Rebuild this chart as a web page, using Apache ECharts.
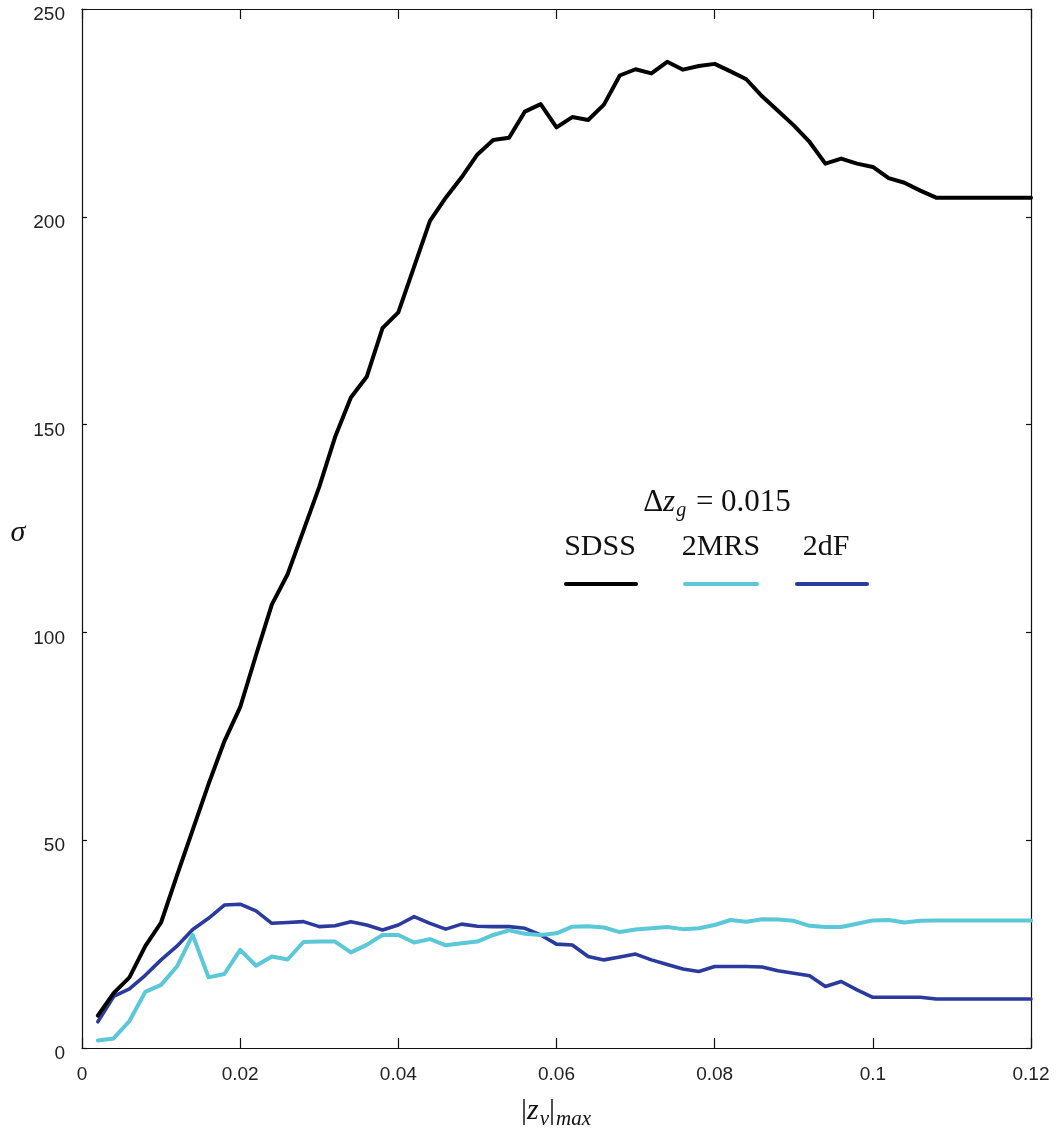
<!DOCTYPE html>
<html>
<head>
<meta charset="utf-8">
<script src="https://cdn.jsdelivr.net/npm/echarts@6/dist/echarts.min.js"></script>
<style>
  html, body { margin: 0; padding: 0; background: #fff; }
  #chart { width: 1058px; height: 1133px; }
</style>
</head>
<body>
<div id="chart"></div>
<script>
// |z_v|_max sampling grid
const zMax = [
  0.002, 0.004, 0.006, 0.008, 0.010, 0.012, 0.014, 0.016, 0.018, 0.020,
  0.022, 0.024, 0.026, 0.028, 0.030, 0.032, 0.034, 0.036, 0.038, 0.040,
  0.042, 0.044, 0.046, 0.048, 0.050, 0.052, 0.054, 0.056, 0.058, 0.060,
  0.062, 0.064, 0.066, 0.068, 0.070, 0.072, 0.074, 0.076, 0.078, 0.080,
  0.082, 0.084, 0.086, 0.088, 0.090, 0.092, 0.094, 0.096, 0.098, 0.100,
  0.102, 0.104, 0.106, 0.108, 0.110, 0.112, 0.114, 0.116, 0.118, 0.120
];

// sigma per survey
const sdss = [
  7.8, 13.2, 17.0, 24.5, 30.2, 41.5, 52.5, 63.5, 73.8, 82.0,
  94.5, 106.7, 114.0, 124.5, 135.0, 147.0, 156.5, 161.5, 173.2, 177.0,
  188.0, 199.0, 204.6, 209.5, 215.0, 218.5, 219.0, 225.3, 227.1, 221.5,
  224.0, 223.3, 227.0, 234.0, 235.5, 234.5, 237.3, 235.4, 236.3, 236.8,
  235.0, 233.1, 229.0, 225.5, 222.0, 218.0, 212.8, 214.0, 212.8, 212.0,
  209.3, 208.2, 206.3, 204.6, 204.6, 204.6, 204.6, 204.6, 204.6, 204.6
];
const twoMRS = [
  1.8, 2.3, 6.5, 13.5, 15.2, 19.6, 27.2, 17.0, 17.8, 23.6,
  19.8, 22.0, 21.3, 25.5, 25.6, 25.6, 23.0, 24.8, 27.2, 27.2,
  25.4, 26.2, 24.7, 25.2, 25.6, 27.2, 28.3, 27.5, 27.2, 27.6,
  29.2, 29.3, 29.0, 27.9, 28.5, 28.8, 29.1, 28.6, 28.8, 29.6,
  30.8, 30.4, 31.0, 30.9, 30.6, 29.4, 29.1, 29.1, 29.9, 30.7,
  30.8, 30.2, 30.6, 30.7, 30.7, 30.7, 30.7, 30.7, 30.7, 30.7
];
const twoDF = [
  6.3, 12.4, 14.2, 17.5, 21.2, 24.5, 28.5, 31.2, 34.4, 34.6,
  33.0, 30.0, 30.2, 30.4, 29.2, 29.4, 30.4, 29.6, 28.4, 29.6,
  31.6, 30.0, 28.6, 29.8, 29.3, 29.2, 29.2, 28.8, 27.2, 25.0,
  24.8, 22.0, 21.2, 21.9, 22.6, 21.2, 20.1, 19.0, 18.4, 19.6,
  19.6, 19.6, 19.5, 18.6, 18.0, 17.4, 14.8, 16.0, 14.0, 12.2,
  12.2, 12.2, 12.2, 11.8, 11.8, 11.8, 11.8, 11.8, 11.8, 11.8
];

const seriesNames = ['SDSS', '2MRS', '2dF'];
const seriesColors = ['#000000', '#5ac8d8', '#2b3a9f'];
const seriesValues = [sdss, twoMRS, twoDF];

const pairs = vals => zMax.map((z, i) => [z, vals[i]]);

const serif = '"Liberation Serif", "DejaVu Serif", serif';
const sans = '"Liberation Sans", Arial, sans-serif';

const boxAxis = {
  axisLine: { show: true, onZero: false, lineStyle: { color: '#111', width: 1.2 } },
  splitLine: { show: false }
};

const chart = echarts.init(document.getElementById('chart'), null, { renderer: 'canvas' });

// Legend block: title above, names above their line samples
const legendNames = [
  { x: 600, text: 'SDSS' },
  { x: 721, text: '2MRS' },
  { x: 826, text: '2dF' }
];
const legendLines = [
  { x1: 566, x2: 636 },
  { x1: 685, x2: 757 },
  { x1: 797, x2: 867 }
];

const graphics = [
  {
    type: 'text', x: 717, y: 503,
    style: {
      text: '{n|Δ}{i|z}{s|g}{n| = 0.015}',
      align: 'center', verticalAlign: 'middle',
      rich: {
        n: { fontFamily: serif, fontSize: 31, fill: '#111' },
        i: { fontFamily: serif, fontSize: 31, fontStyle: 'italic', fill: '#111' },
        s: { fontFamily: serif, fontSize: 20, fontStyle: 'italic', fill: '#111', padding: [16, 2, 0, 1] }
      }
    }
  }
];
legendNames.forEach(n => graphics.push({
  type: 'text', x: n.x, y: 547,
  style: { text: n.text, fontFamily: serif, fontSize: 30, fill: '#111', align: 'center', verticalAlign: 'middle' }
}));
legendLines.forEach((l, i) => graphics.push({
  type: 'line',
  shape: { x1: l.x1, y1: 584, x2: l.x2, y2: 584 },
  style: { stroke: seriesColors[i], lineWidth: 4, lineCap: 'round' }
}));
// y-axis name
graphics.push({
  type: 'text', x: 18, y: 533,
  style: { text: 'σ', fontFamily: serif, fontSize: 30, fontStyle: 'italic', fill: '#111', align: 'center', verticalAlign: 'middle' }
});
// x-axis name |z_v|_max
graphics.push({
  type: 'text', x: 556, y: 1111,
  style: {
    text: '{n||}{i|z}{s|v}{n||}{s|max}',
    align: 'center', verticalAlign: 'middle',
    rich: {
      n: { fontFamily: serif, fontSize: 30, fill: '#111' },
      i: { fontFamily: serif, fontSize: 30, fontStyle: 'italic', fill: '#111' },
      s: { fontFamily: serif, fontSize: 21, fontStyle: 'italic', fill: '#111', padding: [16, 0, 0, 1] }
    }
  }
});

chart.setOption({
  backgroundColor: '#ffffff',
  animation: false,
  grid: { left: 82, right: 27, top: 9, bottom: 85, containLabel: false },
  xAxis: [
    Object.assign({
      type: 'value', position: 'bottom', min: 0, max: 0.12, interval: 0.02,
      axisTick: { show: true, inside: true, length: 10, lineStyle: { color: '#111', width: 1.2 } },
      axisLabel: { show: true, margin: 17, fontFamily: sans, fontSize: 19, color: '#222',
        formatter: v => String(+v.toFixed(2)) }
    }, boxAxis),
    Object.assign({
      type: 'value', position: 'top', min: 0, max: 0.12, interval: 0.02,
      axisTick: { show: true, inside: true, length: 10, lineStyle: { color: '#111', width: 1.2 } },
      axisLabel: { show: false }
    }, boxAxis)
  ],
  yAxis: [
    Object.assign({
      type: 'value', position: 'left', min: 0, max: 250, interval: 50,
      axisTick: { show: true, inside: true, length: 5, lineStyle: { color: '#111', width: 1.2 } },
      axisLabel: { show: true, margin: 17, fontFamily: sans, fontSize: 19, color: '#222',
        verticalAlign: 'top', lineHeight: 12 }
    }, boxAxis),
    Object.assign({
      type: 'value', position: 'right', min: 0, max: 250, interval: 50,
      axisTick: { show: true, inside: true, length: 5, lineStyle: { color: '#111', width: 1.2 } },
      axisLabel: { show: false }
    }, boxAxis)
  ],
  series: seriesNames.map((name, i) => ({
    name,
    type: 'line',
    xAxisIndex: 0,
    yAxisIndex: 0,
    data: pairs(seriesValues[i]),
    showSymbol: false,
    symbol: 'none',
    lineStyle: { color: seriesColors[i], width: i === 2 ? 3.6 : 4, join: 'round', cap: 'round' },
    z: 3 - i
  })),
  graphic: graphics
});
</script>
</body>
</html>
